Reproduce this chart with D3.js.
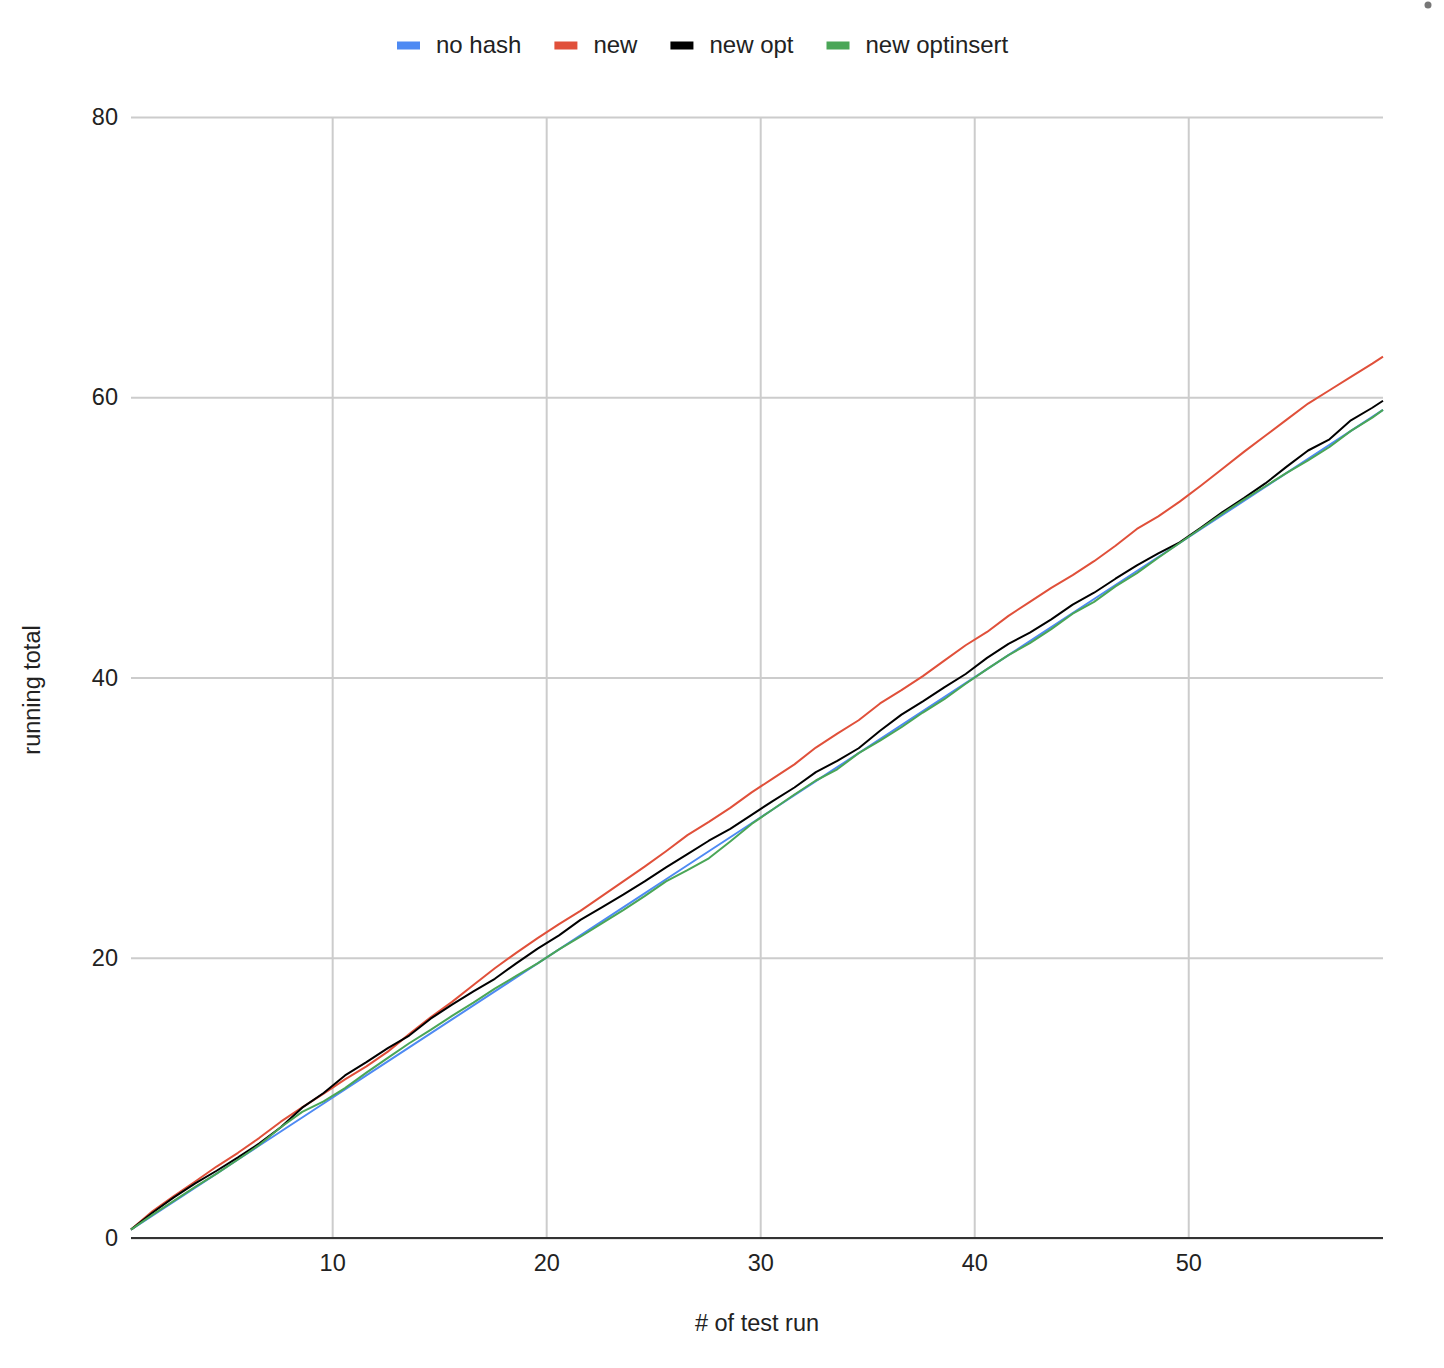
<!DOCTYPE html>
<html>
<head>
<meta charset="utf-8">
<script src="https://cdn.jsdelivr.net/npm/d3@7"></script>
<style>
  body { margin: 0; background: #fff; }
  text { font-family: "Liberation Sans", Arial, sans-serif; fill: #222; }
</style>
</head>
<body>
<div class="chart"></div>
<script>
// # of test run (x positions of the points)
var runs = [0.6, 1.6, 2.6, 3.6, 4.6, 5.6, 6.6, 7.6, 8.6, 9.6,
  10.6, 11.6, 12.6, 13.6, 14.6, 15.6, 16.6, 17.6, 18.6, 19.6,
  20.6, 21.6, 22.6, 23.6, 24.6, 25.6, 26.6, 27.6, 28.6, 29.6,
  30.6, 31.6, 32.6, 33.6, 34.6, 35.6, 36.6, 37.6, 38.6, 39.6,
  40.6, 41.6, 42.6, 43.6, 44.6, 45.6, 46.6, 47.6, 48.6, 49.6,
  50.6, 51.6, 52.6, 53.6, 54.6, 55.6, 56.6, 57.6, 58.6, 59.1];

var noHash = [0.6, 1.6, 2.6, 3.6, 4.6, 5.6, 6.6, 7.6, 8.6, 9.6,
  10.6, 11.6, 12.6, 13.6, 14.6, 15.6, 16.6, 17.6, 18.6, 19.6,
  20.6, 21.6, 22.6, 23.6, 24.6, 25.6, 26.6, 27.6, 28.6, 29.6,
  30.6, 31.6, 32.6, 33.6, 34.6, 35.6, 36.6, 37.6, 38.6, 39.6,
  40.6, 41.6, 42.6, 43.6, 44.6, 45.6, 46.6, 47.6, 48.6, 49.6,
  50.6, 51.6, 52.6, 53.6, 54.6, 55.6, 56.6, 57.6, 58.6, 59.1];

var newHash = [0.6, 1.9, 3.0, 4.03, 5.1, 6.08, 7.15, 8.3, 9.32, 10.3,
  11.32, 12.25, 13.3, 14.55, 15.75, 16.85, 18.05, 19.25, 20.35, 21.4,
  22.4, 23.35, 24.4, 25.45, 26.5, 27.6, 28.75, 29.7, 30.7, 31.8,
  32.8, 33.8, 35.0, 36.0, 36.95, 38.15, 39.1, 40.1, 41.2, 42.3,
  43.25, 44.4, 45.4, 46.4, 47.3, 48.3, 49.4, 50.6, 51.5, 52.55,
  53.7, 54.9, 56.1, 57.25, 58.4, 59.55, 60.5, 61.45, 62.4, 62.9];

var newOpt = [0.6, 1.8, 2.9, 3.9, 4.8, 5.75, 6.75, 7.9, 9.3, 10.35,
  11.6, 12.55, 13.55, 14.45, 15.65, 16.65, 17.6, 18.5, 19.6, 20.65,
  21.6, 22.7, 23.6, 24.5, 25.45, 26.45, 27.4, 28.35, 29.2, 30.2,
  31.2, 32.15, 33.25, 34.05, 34.95, 36.2, 37.35, 38.3, 39.3, 40.25,
  41.4, 42.4, 43.2, 44.15, 45.2, 46.05, 47.05, 48.0, 48.85, 49.65,
  50.7, 51.8, 52.8, 53.85, 55.05, 56.2, 57.0, 58.35, 59.25, 59.75];

var newOptInsert = [0.6, 1.65, 2.65, 3.65, 4.6, 5.6, 6.65, 7.9, 9.0, 9.75,
  10.7, 11.8, 12.85, 13.9, 14.85, 15.85, 16.8, 17.8, 18.7, 19.6,
  20.6, 21.5, 22.45, 23.4, 24.4, 25.45, 26.25, 27.1, 28.3, 29.55,
  30.6, 31.65, 32.65, 33.45, 34.6, 35.5, 36.45, 37.5, 38.45, 39.55,
  40.6, 41.6, 42.45, 43.45, 44.55, 45.4, 46.5, 47.45, 48.55, 49.6,
  50.65, 51.7, 52.7, 53.65, 54.6, 55.5, 56.45, 57.6, 58.55, 59.1];

var seriesNames = ["no hash", "new", "new opt", "new optinsert"];
var seriesColors = ["#4e8af3", "#e0503a", "#000000", "#4aa657"];
var seriesValues = [noHash, newHash, newOpt, newOptInsert];

var xTicks = [10, 20, 30, 40, 50];
var yTicks = [0, 20, 40, 60, 80];

var svgWidth = 1444;
var svgHeight = 1368;
var plot = { left: 131, right: 1383, top: 117, bottom: 1238 };

var svg = d3.select(".chart")
  .append("svg")
  .attr("width", svgWidth)
  .attr("height", svgHeight)
  .style("display", "block");

svg.append("rect")
  .attr("width", svgWidth)
  .attr("height", svgHeight)
  .attr("fill", "#fff");

var xScale = d3.scaleLinear().domain([0.6, 59.1]).range([plot.left, plot.right]);
var yScale = d3.scaleLinear().domain([0, 80]).range([plot.bottom, plot.top]);

var fontSize = "23.5px";

// horizontal gridlines + y labels
var yAxis = svg.append("g")
  .attr("transform", "translate(" + plot.left + ",0)")
  .call(d3.axisLeft(yScale)
    .tickValues(yTicks)
    .tickSize(-(plot.right - plot.left))
    .tickPadding(13)
    .tickFormat(d3.format("d")));
yAxis.select(".domain").remove();
yAxis.selectAll("line").attr("stroke", "#cccccc").attr("stroke-width", 2);
yAxis.selectAll("text").style("font-size", fontSize).attr("fill", "#222");

// vertical gridlines + x labels
var xAxis = svg.append("g")
  .attr("transform", "translate(0," + plot.bottom + ")")
  .call(d3.axisBottom(xScale)
    .tickValues(xTicks)
    .tickSize(-(plot.bottom - plot.top))
    .tickPadding(16)
    .tickFormat(d3.format("d")));
xAxis.select(".domain").remove();
xAxis.selectAll("line").attr("stroke", "#cccccc").attr("stroke-width", 2);
xAxis.selectAll("text").style("font-size", fontSize).attr("fill", "#222");

// baseline
svg.append("line")
  .attr("x1", plot.left).attr("x2", plot.right)
  .attr("y1", yScale(0)).attr("y2", yScale(0))
  .attr("stroke", "#333").attr("stroke-width", 2);

// lines
var line = d3.line()
  .x(function(d, i) { return xScale(runs[i]); })
  .y(function(d) { return yScale(d); });

seriesValues.forEach(function(vals, k) {
  svg.append("path")
    .datum(vals)
    .attr("fill", "none")
    .attr("stroke", seriesColors[k])
    .attr("stroke-width", 2)
    .attr("stroke-linejoin", "round")
    .attr("d", line);
});

// axis titles
svg.append("text")
  .attr("x", (plot.left + plot.right) / 2)
  .attr("y", 1331)
  .attr("text-anchor", "middle")
  .style("font-size", fontSize)
  .text("# of test run");

svg.append("text")
  .attr("transform", "translate(40,690) rotate(-90)")
  .attr("text-anchor", "middle")
  .style("font-size", fontSize)
  .text("running total");

// legend
var legend = svg.append("g").attr("transform", "translate(397,0)");
var lx = 0;
seriesNames.forEach(function(name, k) {
  legend.append("rect")
    .attr("x", lx).attr("y", 41.5)
    .attr("width", 23).attr("height", 8)
    .attr("fill", seriesColors[k]);
  var t = legend.append("text")
    .attr("x", lx + 39).attr("y", 53)
    .style("font-size", "24px")
    .text(name);
  lx += 39 + t.node().getComputedTextLength() + 33;
});

// small dot in the top right corner
svg.append("circle")
  .attr("cx", 1428).attr("cy", 5).attr("r", 3.5)
  .attr("fill", "#777");
</script>
</body>
</html>
